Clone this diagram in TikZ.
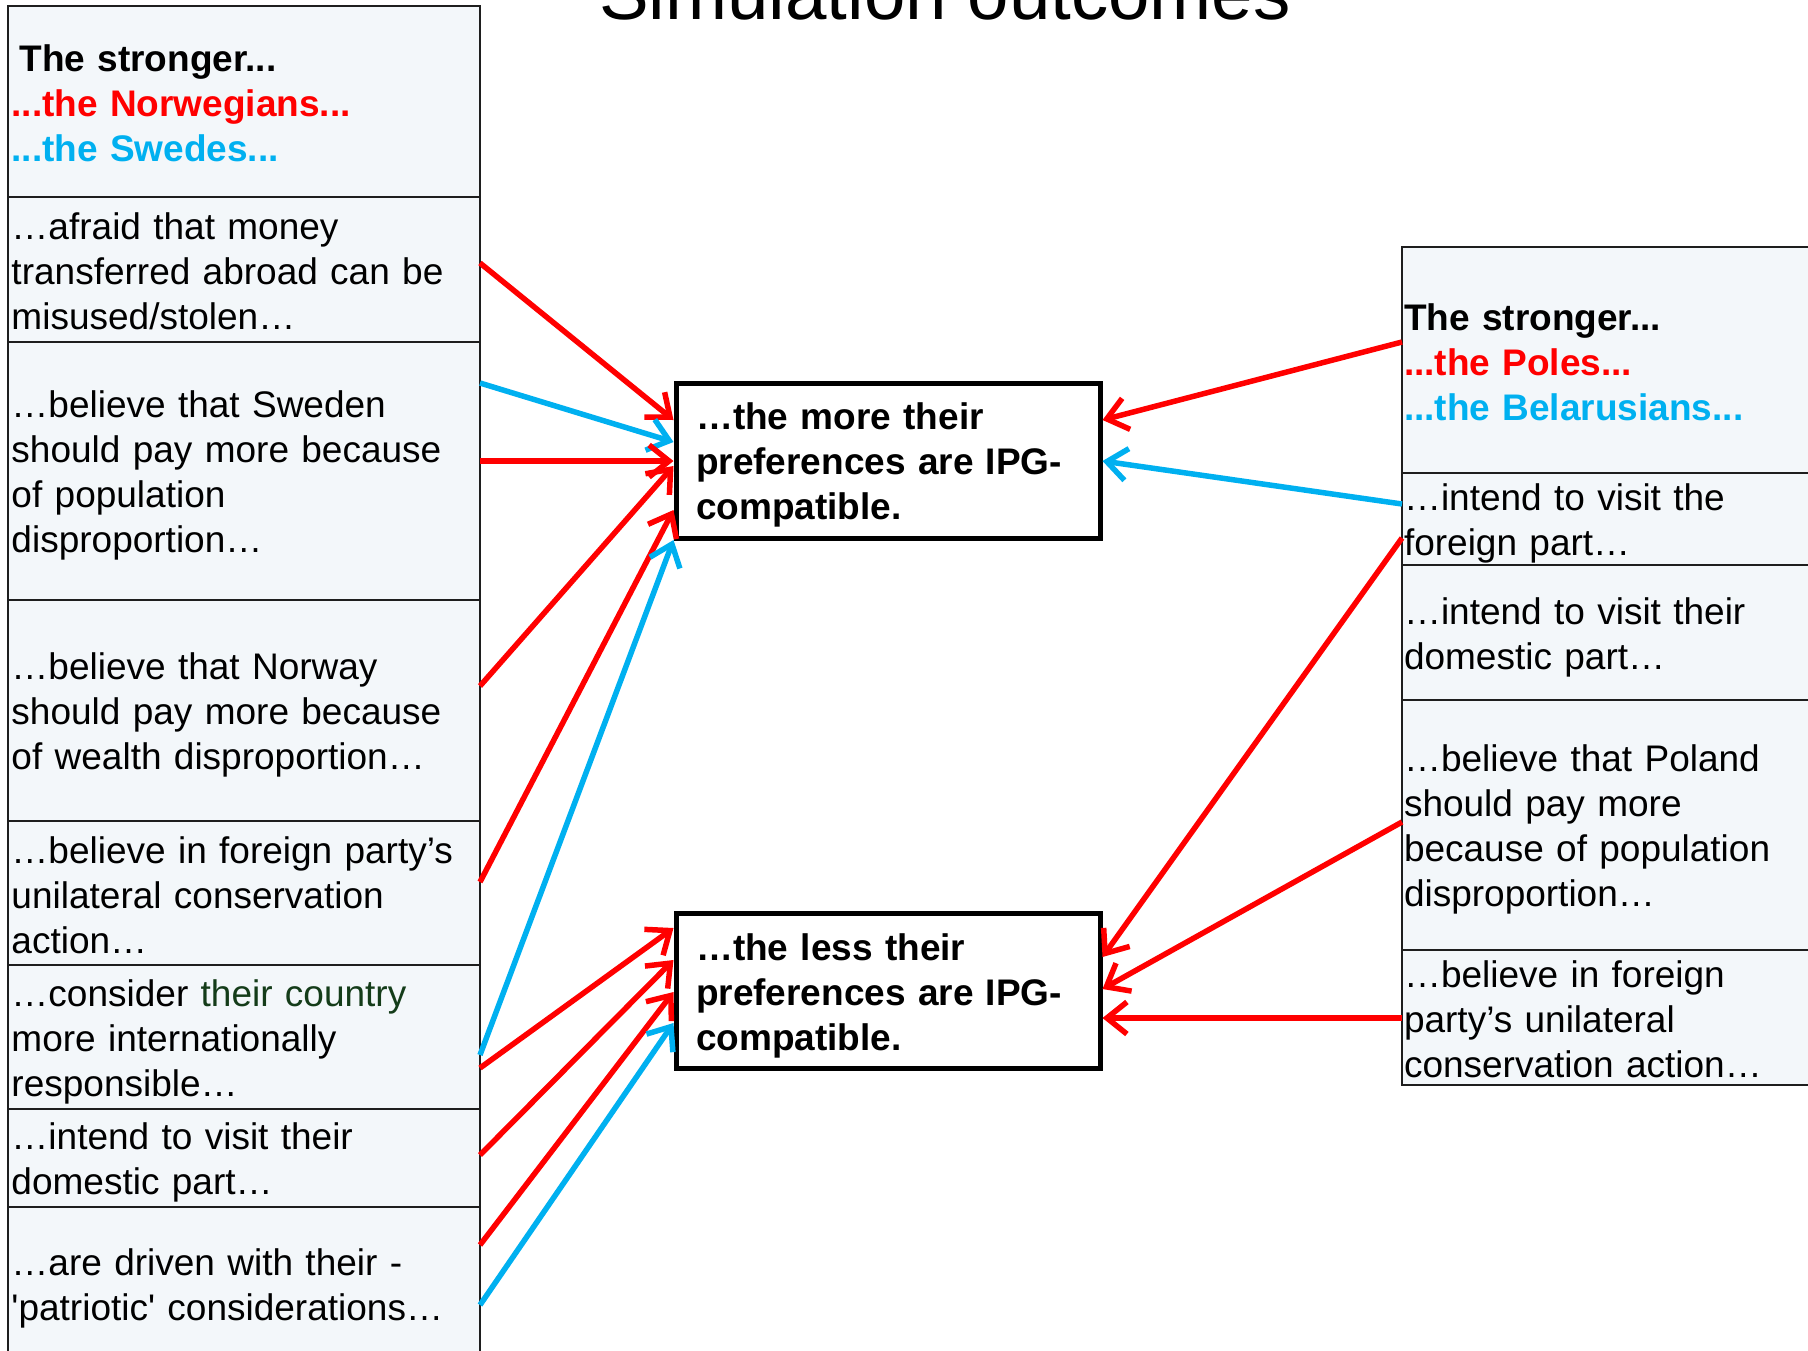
\documentclass[tikz,border=0pt]{standalone}
\usepackage{fontspec}
\setmainfont{Liberation Sans}
\usepackage{tikz}
\usetikzlibrary{positioning,arrows.meta,calc}
\definecolor{tkRed}{RGB}{255,0,0}
\definecolor{tkBlue}{RGB}{0,176,240}
\definecolor{tkGreen}{RGB}{20,60,25}
\definecolor{tkFill}{RGB}{243,247,250}
\definecolor{tkLine}{RGB}{30,30,30}
\begin{document}
\begin{tikzpicture}[
  x=1pt, y=-1pt,
  font=\fontsize{37}{45}\selectfont,
  every node/.append style={align=left},
  evenlines/.style={execute at begin node={\rule{0pt}{36pt}}, execute at end node={\rule[-6pt]{0pt}{6pt}}},
  cellL/.style={draw=tkLine, fill=tkFill, line width=2.5pt, outer sep=0pt, inner xsep=3.5pt, inner ysep=0pt, text width=465pt, evenlines},
  cellR/.style={cellL, inner xsep=2pt, text width=436pt},
  head/.style={font=\fontsize{37}{45}\selectfont\bfseries},
  res/.style={draw=black, fill=white, line width=5pt, inner xsep=20pt, inner ysep=0pt, text width=384pt, minimum height=155pt, font=\fontsize{37}{45}\selectfont\bfseries, evenlines},
  arrR/.style={-{Straight Barb[length=20pt,width=32pt]}, line width=5.5pt, tkRed},
  arrB/.style={arrR, tkBlue},
]
\useasboundingbox (0,0) rectangle (1808,1350);
\clip (0,0) rectangle (1808,1350);
\node[anchor=base, font=\fontsize{74.5}{80}\selectfont] (title) at (945,19) {Simulation outcomes};
% left column
\node[cellL, head, anchor=north west, minimum height=191pt] (l0) at (8,6)
  {\hspace*{8pt}The stronger...\\\textcolor{tkRed}{...the Norwegians...}\\\textcolor{tkBlue}{...the Swedes...}};
\node[cellL, minimum height=145pt, below=0pt of l0] (l1) {…afraid that money\\transferred abroad can be\\misused/stolen…};
\node[cellL, minimum height=258pt, below=0pt of l1] (l2) {…believe that Sweden\\should pay more because\\of population\\disproportion…};
\node[cellL, minimum height=221pt, below=0pt of l2] (l3) {…believe that Norway\\should pay more because\\of wealth disproportion…};
\node[cellL, minimum height=144pt, below=0pt of l3] (l4) {…believe in foreign party’s\\unilateral conservation\\action…};
\node[cellL, minimum height=144pt, below=0pt of l4] (l5) {…consider \textcolor{tkGreen}{their country}\\more internationally\\responsible…};
\node[cellL, minimum height=98pt, below=0pt of l5] (l6) {…intend to visit their\\domestic part…};
\node[cellL, minimum height=153pt, below=0pt of l6] (l7) {…are driven with their -\\\textquotesingle patriotic\textquotesingle{} considerations…};
% right column
\node[cellR, head, anchor=north west, minimum height=226pt] (r0) at (1402,247)
  {The stronger...\\\textcolor{tkRed}{...the Poles...}\\\textcolor{tkBlue}{...the Belarusians...}};
\node[cellR, minimum height=92pt, below=0pt of r0] (r1) {…intend to visit the\\foreign part…};
\node[cellR, minimum height=135pt, below=0pt of r1] (r2) {…intend to visit their\\domestic part…};
\node[cellR, minimum height=250pt, below=0pt of r2] (r3) {…believe that Poland\\should pay more\\because of population\\disproportion…};
\node[cellR, minimum height=135pt, below=0pt of r3] (r4) {…believe in foreign\\party’s unilateral\\conservation action…};
% outcomes
\node[res] (more) at (888,460.5) {…the more their\\preferences are IPG-\\compatible.};
\node[res] (less) at (888,991) {…the less their\\preferences are IPG-\\compatible.};
% arrows into the upper box
\draw[arrR] (l1.east |- 0,263) -- (more.west |- 0,420);
\draw[arrB] (l2.east |- 0,383) -- (more.west |- 0,442);
\draw[arrR] (l2.east |- 0,461) -- (more.west |- 0,461);
\draw[arrR] (l3.east |- 0,686) -- (more.west |- 0,466);
\draw[arrR] (l4.east |- 0,882) -- (more.west |- 0,510);
\draw[arrB] (l5.east |- 0,1055) -- (more.west |- 0,540);
\draw[arrR] (r0.west |- 0,342) -- (more.east |- 0,420);
\draw[arrB] (r1.west |- 0,504) -- (more.east |- 0,461);
% arrows into the lower box
\draw[arrR] (l5.east |- 0,1068) -- (less.west |- 0,928);
\draw[arrR] (l6.east |- 0,1155) -- (less.west |- 0,960);
\draw[arrR] (l7.east |- 0,1245) -- (less.west |- 0,992);
\draw[arrB] (l7.east |- 0,1305) -- (less.west |- 0,1023);
\draw[arrR] (r1.west |- 0,538) -- (less.east |- 0,957);
\draw[arrR] (r3.west |- 0,822) -- (less.east |- 0,989);
\draw[arrR] (r4.west |- 0,1018) -- (less.east |- 0,1018);
\end{tikzpicture}
\end{document}
